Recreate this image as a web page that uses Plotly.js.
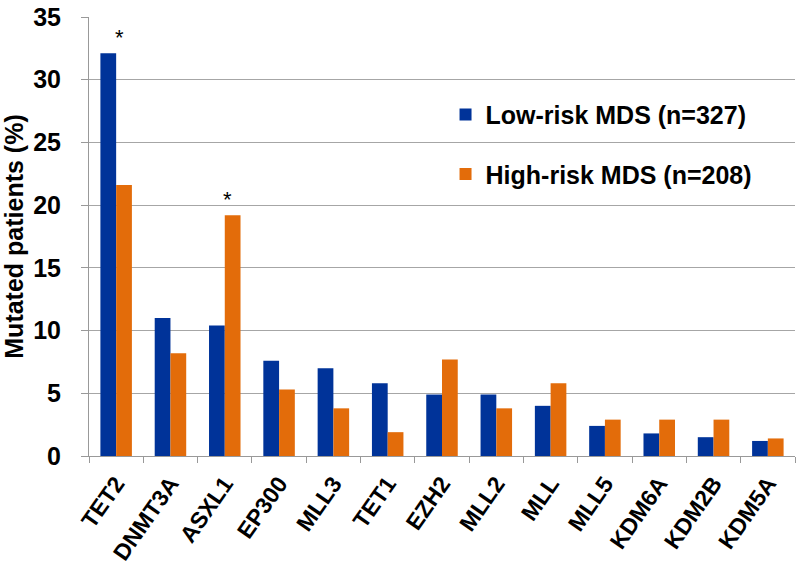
<!DOCTYPE html>
<html>
<head>
<meta charset="utf-8">
<script src="https://cdn.plot.ly/plotly-3.0.1.min.js"></script>
<style>
  html, body { margin: 0; padding: 0; background: #fff; }
  #chart { width: 800px; height: 584px; }
</style>
</head>
<body>
<div id="chart"></div>
<script>
// genes, in the order on the x axis
const genes = ['TET2', 'DNMT3A', 'ASXL1', 'EP300', 'MLL3', 'TET1', 'EZH2',
               'MLL2', 'MLL', 'MLL5', 'KDM6A', 'KDM2B', 'KDM5A'];

// % mutated patients
const lowRisk  = [32.1, 11.0, 10.4, 7.6, 7.0, 5.8, 4.9, 4.9, 4.0, 2.4, 1.8, 1.5, 1.2];
const highRisk = [21.6, 8.2, 19.2, 5.3, 3.8, 1.9, 7.7, 3.8, 5.8, 2.9, 2.9, 2.9, 1.4];

// significant differences
const starGenes = ['TET2', 'ASXL1'];

const font = 'Liberation Sans, Arial, sans-serif';
const blue = '#003399';
const orange = '#E36C0A';

const traces = [{
    x: genes,
    y: lowRisk,
    type: 'bar',
    name: 'Low-risk MDS (n=327)',
    legendgroup: 'low',
    marker: { color: blue }
}, {
    x: genes,
    y: highRisk,
    type: 'bar',
    name: 'High-risk MDS (n=208)',
    legendgroup: 'high',
    marker: { color: orange }
}];

const stars = starGenes.map(g => {
    const i = genes.indexOf(g);
    return {
        x: g,
        y: Math.max(lowRisk[i], highRisk[i]),
        text: '*',
        showarrow: false,
        yanchor: 'bottom',
        yshift: 1,
        xshift: 3,
        font: { family: font, size: 22, color: '#000' }
    };
});

Plotly.newPlot('chart', traces, {
    width: 800,
    height: 584,
    margin: { l: 89, r: 5, t: 17, b: 128 },
    paper_bgcolor: '#fff',
    plot_bgcolor: '#fff',
    font: { family: font, color: '#000' },
    barmode: 'group',
    bargap: 0.42,
    bargroupgap: 0,
    showlegend: true,
    legend: {
        x: 0.505, y: 0.83,
        xanchor: 'left', yanchor: 'top',
        bgcolor: 'rgba(0,0,0,0)',
        font: { family: font, size: 25, weight: 'bold' },
        traceorder: 'grouped',
        tracegroupgap: 24,
        itemwidth: 30
    },
    xaxis: {
        type: 'category',
        tickson: 'boundaries',
        ticks: 'outside',
        ticklen: 6,
        tickcolor: '#999',
        showline: true,
        linecolor: '#999',
        tickangle: -55,
        ticklabelstandoff: 4,
        tickfont: { family: font, size: 23, weight: 'bold' }
    },
    yaxis: {
        range: [0, 35],
        dtick: 5,
        ticks: 'outside',
        ticklen: 7,
        tickcolor: '#999',
        showline: true,
        linecolor: '#999',
        showgrid: true,
        gridcolor: '#A6A6A6',
        zeroline: false,
        ticklabelstandoff: 15,
        tickfont: { family: font, size: 25, weight: 'bold' },
        title: { text: 'Mutated patients (%)', standoff: 8,
                 font: { family: font, size: 25, weight: 'bold' } }
    },
    annotations: stars
}, { displayModeBar: false });
</script>
</body>
</html>
